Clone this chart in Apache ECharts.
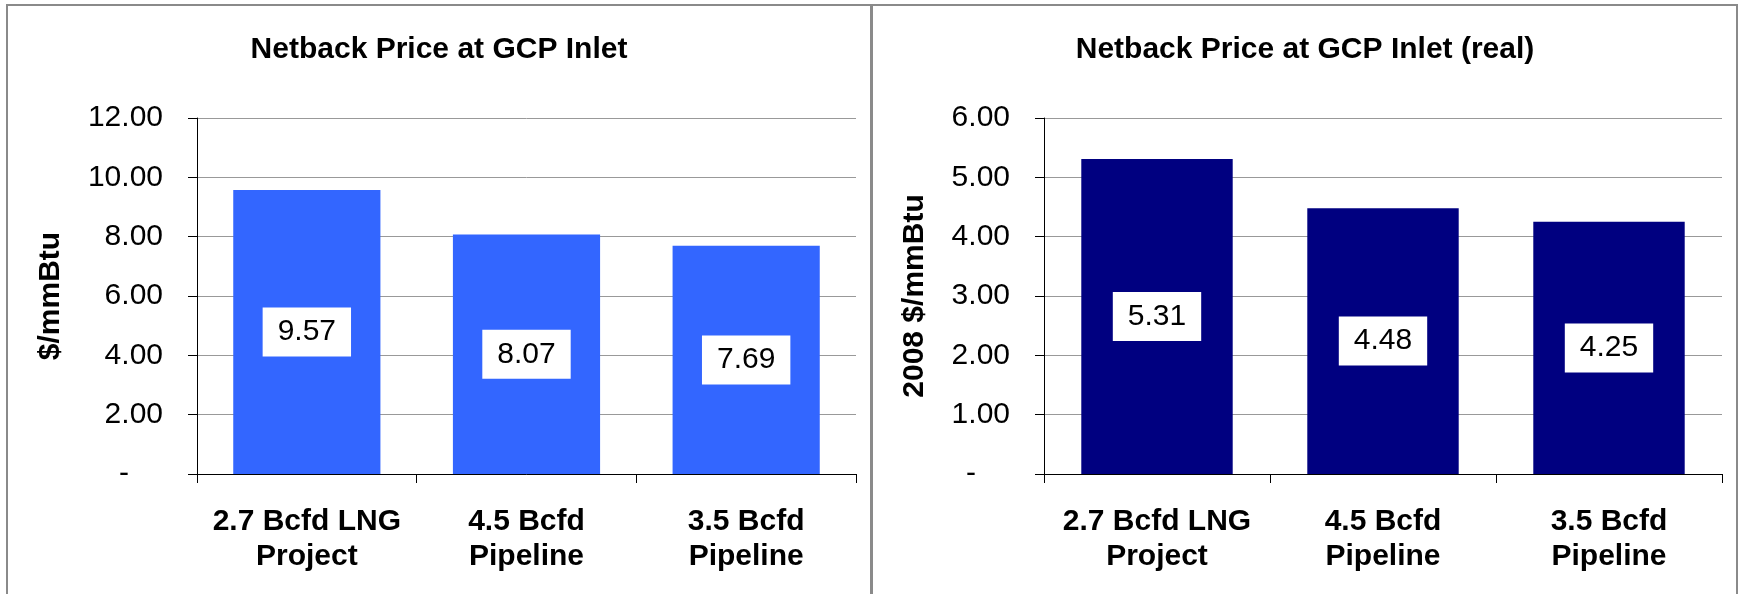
<!DOCTYPE html>
<html>
<head>
<meta charset="utf-8">
<title>Netback Price at GCP Inlet</title>
<script src="https://cdn.jsdelivr.net/npm/echarts@6/dist/echarts.min.js"></script>
<style>
  html, body { margin: 0; padding: 0; background: #ffffff; }
  #chart { width: 1738px; height: 594px; }
</style>
</head>
<body>
<div id="chart"></div>
<script>
// Project options and their netback prices ($/mmBtu)
const categories = ['2.7 Bcfd LNG\nProject', '4.5 Bcfd\nPipeline', '3.5 Bcfd\nPipeline'];
const nominalPrices = [9.57, 8.07, 7.69];
const realPrices = [5.31, 4.48, 4.25];

// Value-axis tick labels (accounting style: zero shown as a dash)
const nominalTicks = ['-', '2.00', '4.00', '6.00', '8.00', '10.00', '12.00'];
const realTicks = ['-', '1.00', '2.00', '3.00', '4.00', '5.00', '6.00'];

const titles = ['Netback Price at GCP Inlet', 'Netback Price at GCP Inlet (real)'];
const axisNames = ['$/mmBtu', '2008 $/mmBtu'];

const FONT = '"Liberation Sans", Arial, sans-serif';

function tickFormatter(ticks, step) {
  return function (v) {
    const s = ticks[Math.round(v / step)];
    return s === '-' ? '{dash|-}' : s;
  };
}

function valueAxis(gridIndex, max, step, ticks, name, nameGap) {
  return {
    type: 'value',
    gridIndex: gridIndex,
    min: 0,
    max: max,
    interval: step,
    name: name,
    nameLocation: 'middle',
    nameGap: nameGap,
    nameTextStyle: { fontFamily: FONT, fontSize: 30, fontWeight: 'bold', color: '#000' },
    axisLine: { show: true, lineStyle: { color: '#000', width: 1 } },
    axisTick: { show: true, length: 9, lineStyle: { color: '#000' } },
    axisLabel: {
      fontFamily: FONT, fontSize: 30, color: '#000', margin: 34,
      formatter: tickFormatter(ticks, step),
      rich: { dash: { fontFamily: FONT, fontSize: 30, color: '#000', padding: [0, 34, 0, 0] } }
    },
    splitLine: { show: true, lineStyle: { color: '#999', width: 1 } }
  };
}

function categoryAxis(gridIndex) {
  return {
    type: 'category',
    gridIndex: gridIndex,
    data: categories,
    axisLine: { show: true, lineStyle: { color: '#000', width: 1 } },
    axisTick: { show: true, length: 9, lineStyle: { color: '#000' } },
    axisLabel: {
      fontFamily: FONT, fontSize: 30, fontWeight: 'bold', color: '#000',
      lineHeight: 35, margin: 30, interval: 0
    }
  };
}

function barSeries(index, data, color) {
  return {
    type: 'bar',
    xAxisIndex: index,
    yAxisIndex: index,
    data: data,
    barCategoryGap: '33%',
    itemStyle: { color: color },
    label: {
      show: true,
      position: 'inside',
      formatter: function (p) { return p.value.toFixed(2); },
      fontFamily: FONT, fontSize: 30, color: '#000', lineHeight: 31,
      backgroundColor: '#ffffff',
      padding: [9, 15]
    },
    silent: true
  };
}

const chart = echarts.init(document.getElementById('chart'), null, { renderer: 'canvas' });

chart.setOption({
  backgroundColor: '#ffffff',
  animation: false,
  title: [
    {
      text: titles[0], left: 439, top: 35, textAlign: 'center', padding: 0,
      textStyle: { fontFamily: FONT, fontSize: 30, fontWeight: 'bold', color: '#000' }
    },
    {
      text: titles[1], left: 1305, top: 35, textAlign: 'center', padding: 0,
      textStyle: { fontFamily: FONT, fontSize: 30, fontWeight: 'bold', color: '#000' }
    }
  ],
  grid: [
    { left: 197, top: 118, width: 659, height: 356, containLabel: false },
    { left: 1044, top: 118, width: 678, height: 356, containLabel: false }
  ],
  xAxis: [categoryAxis(0), categoryAxis(1)],
  yAxis: [
    valueAxis(0, 12, 2, nominalTicks, axisNames[0], 131),
    valueAxis(1, 6, 1, realTicks, axisNames[1], 114)
  ],
  series: [
    barSeries(0, nominalPrices, '#3366FF'),
    barSeries(1, realPrices, '#000080')
  ],
  graphic: [
    {
      type: 'rect', silent: true, z: 100,
      shape: { x: 7, y: 5, width: 864, height: 620 },
      style: { fill: 'none', stroke: '#8a8a8a', lineWidth: 2 }
    },
    {
      type: 'rect', silent: true, z: 100,
      shape: { x: 872, y: 5, width: 865, height: 620 },
      style: { fill: 'none', stroke: '#8a8a8a', lineWidth: 2 }
    }
  ]
});
</script>
</body>
</html>
